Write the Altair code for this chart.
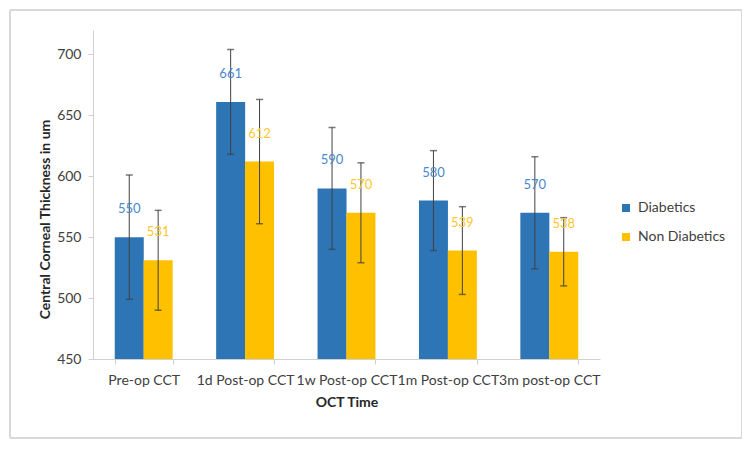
import altair as alt
import pandas as pd

categories = ["Pre-op CCT", "1d Post-op CCT", "1w Post-op CCT", "1m Post-op CCT", "3m post-op CCT"]
series = ["Diabetics", "Non Diabetics"]
diabetics = [550, 661, 590, 580, 570]
non_diabetics = [531, 612, 570, 539, 538]
diabetics_err = [51, 43, 50, 41, 46]
non_diabetics_err = [41, 51, 41, 36, 28]

rows = []
for i, c in enumerate(categories):
    rows.append({"cat": c, "group": series[0], "value": diabetics[i], "lo": diabetics[i] - diabetics_err[i], "hi": diabetics[i] + diabetics_err[i]})
    rows.append({"cat": c, "group": series[1], "value": non_diabetics[i], "lo": non_diabetics[i] - non_diabetics_err[i], "hi": non_diabetics[i] + non_diabetics_err[i]})
df = pd.DataFrame(rows)

FONT = "Lato"
bar_colors = ["#2e75b6", "#ffc000"]
label_colors = ["#4a88cc", "#ffc72c"]

x_enc = alt.X("cat:N", sort=categories,
              scale=alt.Scale(paddingInner=0.43, paddingOuter=0.215),
              axis=alt.Axis(title="OCT Time", labelAngle=0, tickBand="extent",
                            labelFontSize=14, labelColor="#404040", labelPadding=9,
                            titleFontSize=14, titleFontWeight="bold", titleColor="#262626",
                            titlePadding=8, domainColor="#d0d0d0", tickColor="#d0d0d0",
                            tickSize=5, labelFont=FONT, titleFont=FONT, grid=False))
xo = alt.XOffset("group:N", sort=series)
y_scale = alt.Scale(domain=[450, 720], nice=False)

base = alt.Chart(df)

bars = base.mark_bar(size=29, clip=True).encode(
    x=x_enc, xOffset=xo,
    y=alt.Y("value:Q", scale=y_scale,
            axis=alt.Axis(title="Central Corneal Thickness in um", values=[450, 500, 550, 600, 650, 700],
                          grid=False, labelFontSize=14, labelColor="#404040", labelPadding=7,
                          titleFontSize=14, titleFontWeight="bold", titleColor="#262626",
                          titleX=-48, titleY=189, titleBaseline="middle", titleAlign="center",
                          domainColor="#d0d0d0", tickColor="#d0d0d0", tickSize=5,
                          labelFont=FONT, titleFont=FONT)),
    color=alt.Color("group:N", sort=series, scale=alt.Scale(domain=series, range=bar_colors),
                    legend=alt.Legend(title=None, orient="none", legendX=526, legendY=171,
                                      symbolType="square", symbolSize=64, labelFontSize=14,
                                      labelFont=FONT, labelColor="#404040", rowPadding=15,
                                      symbolStrokeWidth=0, labelOffset=5)),
)

err = base.mark_rule(color="#404040", strokeWidth=1).encode(
    x=alt.X("cat:N", sort=categories), xOffset=xo,
    y=alt.Y("lo:Q", scale=y_scale), y2="hi:Q")

cap_hi = base.mark_tick(color="#404040", thickness=1.5, size=7, orient="horizontal").encode(
    x=alt.X("cat:N", sort=categories), xOffset=xo, y=alt.Y("hi:Q", scale=y_scale))
cap_lo = base.mark_tick(color="#404040", thickness=1.5, size=7, orient="horizontal").encode(
    x=alt.X("cat:N", sort=categories), xOffset=xo, y=alt.Y("lo:Q", scale=y_scale))

labels = base.mark_text(dy=-28, fontSize=13, font=FONT, baseline="middle").encode(
    x=alt.X("cat:N", sort=categories), xOffset=xo, y=alt.Y("value:Q", scale=y_scale),
    text="value:Q",
    color=alt.Color("group:N", sort=series, scale=alt.Scale(domain=series, range=label_colors), legend=None))

FRAME = "#d9d9d9"
one = pd.DataFrame({"a": [0]})
frame = alt.Chart(one).mark_rule(stroke=FRAME, strokeWidth=2).encode(
    x=alt.value(-83), x2=alt.value(649), y=alt.value(-20))
frame_b = alt.Chart(one).mark_rule(stroke=FRAME, strokeWidth=2).encode(
    x=alt.value(-83), x2=alt.value(649), y=alt.value(408))
frame_l = alt.Chart(one).mark_rule(stroke=FRAME, strokeWidth=2).encode(
    x=alt.value(-83), y=alt.value(-20), y2=alt.value(408))
frame_r = alt.Chart(one).mark_rule(stroke=FRAME, strokeWidth=2).encode(
    x=alt.value(649), y=alt.value(-20), y2=alt.value(408))

chart = alt.layer(frame, frame_b, frame_l, frame_r, bars, err, cap_hi, cap_lo, labels).resolve_scale(color="independent").properties(
    width=507, height=329,
    autosize=alt.AutoSizeParams(type="none"),
    padding={"left": 85, "top": 22, "right": 142, "bottom": 83},
).configure(font=FONT, view=alt.ViewConfig(stroke="#ffffff", strokeWidth=2))

chart.save("out.html", embed_options={"renderer": "svg", "actions": False})
